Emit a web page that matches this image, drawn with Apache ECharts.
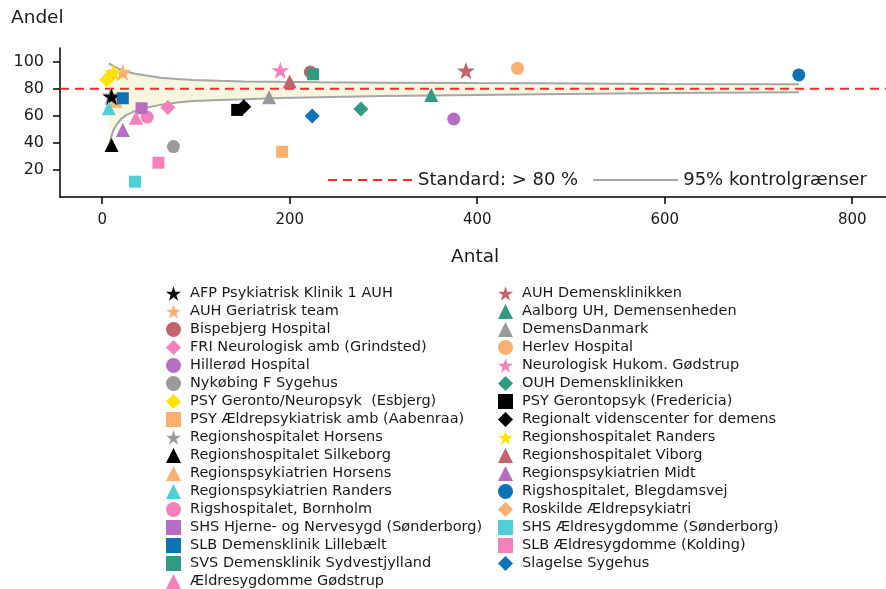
<!DOCTYPE html>
<html><head><meta charset="utf-8">
<script src="https://cdn.jsdelivr.net/npm/echarts@6/dist/echarts.min.js"></script>
<style>html,body{margin:0;padding:0;background:#fff}#c{width:886px;height:589px}</style>
</head><body><div id="c"></div>
<script>
// ---- data ----
const names = [
  'AFP Psykiatrisk Klinik 1 AUH','AUH Geriatrisk team','Bispebjerg Hospital','FRI Neurologisk amb (Grindsted)',
  'Hillerød Hospital','Nykøbing F Sygehus','PSY Geronto/Neuropsyk  (Esbjerg)','PSY Ældrepsykiatrisk amb (Aabenraa)',
  'Regionshospitalet Horsens','Regionshospitalet Silkeborg','Regionspsykiatrien Horsens','Regionspsykiatrien Randers',
  'Rigshospitalet, Bornholm','SHS Hjerne- og Nervesygd (Sønderborg)','SLB Demensklinik Lillebælt','SVS Demensklinik Sydvestjylland',
  'Ældresygdomme Gødstrup',
  'AUH Demensklinikken','Aalborg UH, Demensenheden','DemensDanmark','Herlev Hospital','Neurologisk Hukom. Gødstrup',
  'OUH Demensklinikken','PSY Gerontopsyk (Fredericia)','Regionalt videnscenter for demens','Regionshospitalet Randers',
  'Regionshospitalet Viborg','Regionspsykiatrien Midt','Rigshospitalet, Blegdamsvej','Roskilde Ældrepsykiatri',
  'SHS Ældresygdomme (Sønderborg)','SLB Ældresygdomme (Kolding)','Slagelse Sygehus'
];
const antal = [10, 22, 222, 70, 375, 76, 5, 192, 9, 10, 14, 7, 48, 42, 22, 225, 36,
               388, 351, 178, 443, 190, 276, 144, 151, 12, 200, 22, 743, 8, 35, 60, 224];
const andel = [74, 92, 92.3, 66, 57.6, 37.2, 86.5, 33.4, 75, 38.4, 71, 65.5, 59, 65.5, 72.9, 90.6, 58.5,
               93.3, 75.3, 73.6, 95, 93.6, 65, 64.3, 66.7, 92, 85.2, 49.5, 90.1, 89, 11.3, 25.3, 59.8];
const ctrlN     = [7, 8, 9, 10, 12, 15, 20, 26, 35, 44, 62, 80, 97, 125, 151, 190, 232, 300, 400, 467, 600, 743];
const ctrlUpper = [98.7, 98.4, 98, 97.6, 96.8, 95.5, 94, 92.5, 91, 90, 88.1, 87.2, 86.4, 85.8, 85.3, 85, 84.7, 84.4, 84.1, 84.0, 83.5, 83.2];
const ctrlLower = [34.7, 38.5, 42, 45, 49.5, 53, 57.5, 60.6, 63.5, 65.5, 68, 69.8, 70.9, 71.7, 72.2, 73, 73.6, 74.5, 75.3, 75.8, 76.7, 77.3];
const standardValue = 80;
const xTicks = [0, 200, 400, 600, 800];
const yTicks = [20, 40, 60, 80, 100];

// ---- styles ----
const markers = ['star','star','circle','diamond','circle','circle','diamond','rect','star','triangle','triangle','triangle',
  'circle','rect','rect','rect','triangle',
  'star','triangle','triangle','circle','star','diamond','rect','diamond','star','triangle','triangle','circle','diamond',
  'rect','rect','diamond'];
const C = {black:'#000000', orange:'#F9B070', red:'#C4626E', pink:'#F480BC', purple:'#B66EC2', gray:'#9A9A9A',
  yellow:'#FFE200', turq:'#4FD0D6', blue:'#0B73B6', teal:'#319A83'};
const colors = [C.black,C.orange,C.red,C.pink,C.purple,C.gray,C.yellow,C.orange,C.gray,C.black,C.orange,C.turq,
  C.pink,C.purple,C.blue,C.teal,C.pink,
  C.red,C.teal,C.gray,C.orange,C.pink,C.teal,C.black,C.black,C.yellow,C.red,C.purple,C.blue,C.orange,C.turq,C.pink,C.blue];
const STAR = 'path://M50,0 L61.2,34.5 L97.6,34.5 L68.2,55.9 L79.4,90.5 L50,69.1 L20.6,90.5 L31.8,55.9 L2.4,34.5 L38.8,34.5 Z';
const symOf = m => m === 'star' ? STAR : m;
const sizeOf = {star:18, circle:13, rect:12, diamond:15, triangle:14};
const lowZ = {'Regionshospitalet Horsens':1, 'Regionspsykiatrien Horsens':1, 'Roskilde Ældrepsykiatri':1};

const FONT = 'DejaVu Sans';
const scatterSeries = names.map((n, i) => ({
  name: n, type: 'scatter',
  data: [[antal[i], andel[i]]],
  symbol: symOf(markers[i]), symbolSize: sizeOf[markers[i]], symbolKeepAspect: true,
  itemStyle: {color: colors[i], opacity: 1},
  z: lowZ[n] ? 4 : 6,
  emphasis: {disabled: true}, silent: true
}));

const xMin = -45, xMax = 836, yMin = 0, yMax = 110;
const GRAY = '#A6A6A6';

const series = [
  {type: 'custom', name: 'band', silent: true, z: 1,
   data: [[ctrlN[0], ctrlUpper[0]]],
   renderItem: (params, api) => {
     const up = ctrlN.map((n, i) => api.coord([n, ctrlUpper[i]]));
     const lo = ctrlN.map((n, i) => api.coord([n, ctrlLower[i]])).reverse();
     return {type: 'polygon', shape: {points: up.concat(lo)}, style: {fill: '#F7F7DF', stroke: null}};
   }},
  {name: '95% kontrolgrænser', type: 'line', symbol: 'none',
   data: ctrlN.map((n, i) => [n, ctrlLower[i]]),
   itemStyle: {color: GRAY}, lineStyle: {color: GRAY, width: 2}, z: 2, silent: true},
  {name: '95% kontrolgrænser', type: 'line', symbol: 'none',
   data: ctrlN.map((n, i) => [n, ctrlUpper[i]]),
   itemStyle: {color: GRAY}, lineStyle: {color: GRAY, width: 2}, z: 2, silent: true},
  {name: 'Standard: > 80 %', type: 'line', symbol: 'none',
   data: [[xMin, standardValue], [xMax, standardValue]],
   itemStyle: {color: '#F52A2A'}, lineStyle: {color: '#F52A2A', width: 2, type: [9, 6]}, z: 3, silent: true},
  ...scatterSeries
];

const legendText = {fontFamily: FONT, fontSize: 14.5, color: '#1a1a1a', lineHeight: 14, padding: [0, 0, 0, 4]};
const chart = echarts.init(document.getElementById('c'), null, {renderer: 'canvas'});
chart.setOption({
  animation: false,
  backgroundColor: '#fff',
  grid: {left: 60, right: 0, top: 48, bottom: 392, containLabel: false},
  xAxis: {type: 'value', min: xMin, max: xMax,
    axisLine: {show: true, onZero: false, lineStyle: {color: '#000', width: 1.5}},
    axisTick: {show: true, customValues: xTicks, length: 7, lineStyle: {color: '#000', width: 1.5}},
    axisLabel: {customValues: xTicks, margin: 16, fontFamily: FONT, fontSize: 15, color: '#1a1a1a'},
    splitLine: {show: false}},
  yAxis: {type: 'value', min: yMin, max: yMax,
    axisLine: {show: true, onZero: false, lineStyle: {color: '#000', width: 1.5}},
    axisTick: {show: true, customValues: yTicks, length: 7, lineStyle: {color: '#000', width: 1.5}},
    axisLabel: {customValues: yTicks, margin: 16, fontFamily: FONT, fontSize: 16, color: '#1a1a1a'},
    splitLine: {show: false}},
  legend: [
    {data: names.slice(0, 17), orient: 'vertical', left: 166, top: 286, height: 330, padding: 0, itemGap: 3,
     itemWidth: 15, itemHeight: 15, selectedMode: false, textStyle: legendText},
    {data: names.slice(17), orient: 'vertical', left: 498, top: 286, height: 330, padding: 0, itemGap: 3,
     itemWidth: 15, itemHeight: 15, selectedMode: false, textStyle: legendText},
    {data: ['Standard: > 80 %', '95% kontrolgrænser'], orient: 'horizontal', left: 327, top: 170, padding: 0,
     itemGap: 14, itemWidth: 85, itemHeight: 14, selectedMode: false,
     itemStyle: {color: 'transparent', opacity: 0, borderWidth: 0},
     textStyle: {fontFamily: FONT, fontSize: 18, color: '#1a1a1a', lineHeight: 20}}
  ],
  graphic: [
    {type: 'text', left: 11, top: 9, style: {text: 'Andel', font: '18.5px "DejaVu Sans"', fill: '#1a1a1a'}},
    {type: 'text', left: 451, top: 248, style: {text: 'Antal', font: '18.5px "DejaVu Sans"', fill: '#1a1a1a'}}
  ],
  series: series
});
</script></body></html>
